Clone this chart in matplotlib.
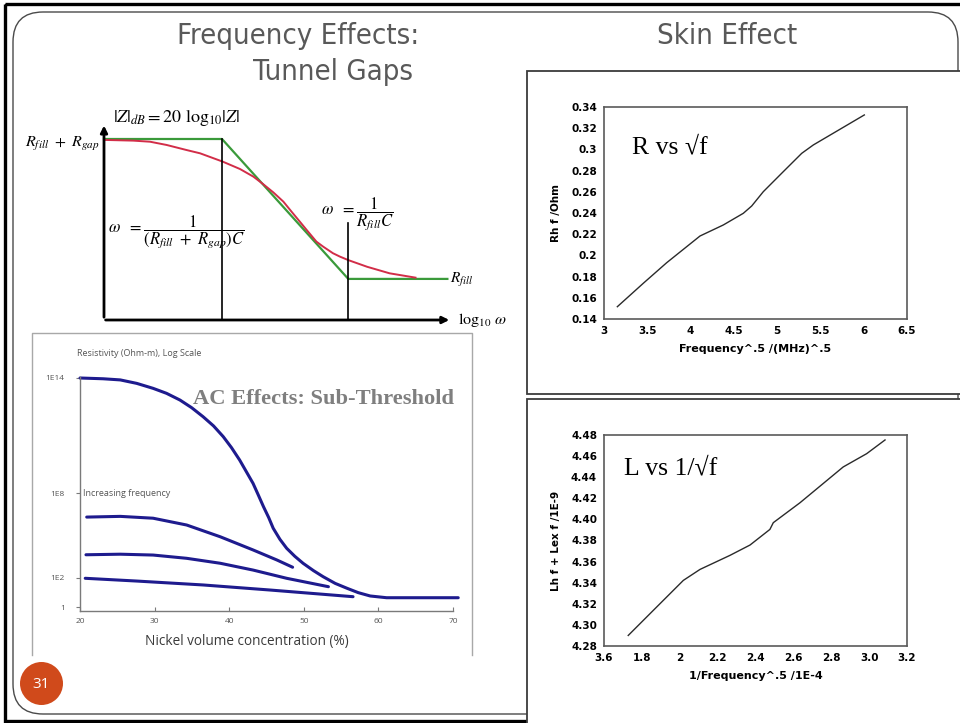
import numpy as np
import matplotlib.pyplot as plt
from matplotlib import font_manager
from matplotlib.patches import FancyBboxPatch, Rectangle, Circle

plt.rcParams['mathtext.fontset'] = 'stix'

W, H = 960, 723

# --- Bode sketch: log10(w) in arbitrary units, |Z|_dB normalised to the top level
bode_w_asym = [0.0, 1.0, 2.07, 2.91]
bode_z_asym = [1.0, 1.0, 0.227, 0.227]
bode_w_exact = [0.0, 0.248, 0.39, 0.531, 0.70, 0.814, 1.006, 1.153, 1.266, 1.35, 1.435, 1.52,
                1.59, 1.66, 1.718, 1.80, 1.858, 1.94, 2.0, 2.07, 2.23, 2.42, 2.64]
bode_z_exact = [0.995, 0.991, 0.985, 0.967, 0.939, 0.921, 0.875, 0.834, 0.792, 0.750, 0.705, 0.654,
                0.598, 0.543, 0.497, 0.433, 0.405, 0.369, 0.350, 0.331, 0.294, 0.258, 0.234]
break_w = [1.0, 2.07]
break_top = [1.0, 0.536]

# --- resistivity vs nickel content, y = log10(Ohm-m)
ni_x_dc = [20.0, 23.1, 25.4, 27.6, 29.8, 31.6, 33.4, 34.97, 36.5, 37.9, 39.2, 40.3, 41.4, 42.3,
           43.2, 43.9, 44.6, 45.3, 45.9, 46.8, 47.7, 48.8, 49.9, 51.3, 52.6, 54.2, 55.8, 57.3,
           58.9, 61.1, 70.7]
ni_y_dc = [14.0, 13.96, 13.9, 13.72, 13.46, 13.2, 12.85, 12.45, 11.98, 11.5, 10.94, 10.37, 9.72, 9.11,
           8.50, 7.86, 7.03, 6.26, 5.51, 4.73, 4.10, 3.53, 3.04, 2.52, 2.09, 1.63, 1.29, 0.99,
           0.76, 0.64, 0.64]
ni_x_f1 = [20.9, 25.4, 29.8, 34.3, 38.8, 43.2, 46.4, 48.5]
ni_y_f1 = [6.30, 6.35, 6.22, 5.74, 4.91, 3.98, 3.27, 2.76]
ni_x_f2 = [20.8, 25.4, 29.8, 34.3, 38.8, 43.2, 47.7, 53.3]
ni_y_f2 = [3.64, 3.68, 3.62, 3.39, 3.04, 2.56, 1.98, 1.40]
ni_x_f3 = [20.7, 27.6, 36.5, 45.5, 56.6]
ni_y_f3 = [1.98, 1.79, 1.52, 1.17, 0.71]
ni_xticks = [20, 30, 40, 50, 60, 70]
ni_yticks = [0, 2, 8, 14]
ni_yticklabels = ['1', '1E2', '1E8', '1E14']

# --- skin effect: R vs sqrt(f)
r_x = [3.154, 3.454, 3.724, 4.109, 4.378, 4.609, 4.706, 4.840, 5.071, 5.284, 5.418, 5.726, 6.007]
r_y = [0.1516, 0.1737, 0.1931, 0.2183, 0.2287, 0.2397, 0.2466, 0.2601, 0.2790, 0.2963, 0.3042, 0.3190, 0.3325]
r_xticks = [3, 3.5, 4, 4.5, 5, 5.5, 6, 6.5]
r_xticklabels = ['3', '3.5', '4', '4.5', '5', '5.5', '6', '6.5']
r_yticks = [0.14, 0.16, 0.18, 0.20, 0.22, 0.24, 0.26, 0.28, 0.30, 0.32, 0.34]
r_yticklabels = ['0.14', '0.16', '0.18', '0.2', '0.22', '0.24', '0.26', '0.28', '0.3', '0.32', '0.34']

# --- skin effect: L vs 1/sqrt(f)
l_x = [1.728, 1.860, 2.019, 2.107, 2.265, 2.371, 2.476, 2.494, 2.635, 2.863, 2.987, 3.084]
l_y = [4.290, 4.3137, 4.3422, 4.3526, 4.3659, 4.3757, 4.3905, 4.3969, 4.4158, 4.4497, 4.4623, 4.4753]
l_xticks = [1.6, 1.8, 2.0, 2.2, 2.4, 2.6, 2.8, 3.0, 3.2]
l_xticklabels = ['3.6', '1.8', '2', '2.2', '2.4', '2.6', '2.8', '3.0', '3.2']
l_yticks = [4.28, 4.30, 4.32, 4.34, 4.36, 4.38, 4.40, 4.42, 4.44, 4.46, 4.48]
l_yticklabels = ['4.28', '4.30', '4.32', '4.34', '4.36', '4.38', '4.40', '4.42', '4.44', '4.46', '4.48']


def px_box(x0, y0, x1, y1):
    # pixel rectangle (top-left origin) -> figure fraction rect
    return [x0 / W, 1 - y1 / H, (x1 - x0) / W, (y1 - y0) / H]


fonts = font_manager.fontManager.ttflist
names = {f.name for f in fonts}
serif = 'Liberation Serif' if 'Liberation Serif' in names else 'DejaVu Serif'
plain = 'Open Sans' if 'Open Sans' in names else 'DejaVu Sans'
# narrow face for the slide headings
if 'Liberation Sans Narrow' in names:
    head = dict(family='Liberation Sans Narrow', fontsize=22)
elif any(f.name == 'DejaVu Sans' and f.stretch == 'condensed' for f in fonts):
    head = dict(family='DejaVu Sans', stretch='condensed', fontsize=21)
elif 'Roboto' in names:
    head = dict(family='Roboto', fontsize=20)
else:
    head = dict(family='Liberation Sans', fontsize=19)

fig = plt.figure(figsize=(W / 100, H / 100), dpi=100)
fig.patch.set_facecolor('white')

# slide furniture
bg = fig.add_axes([0, 0, 1, 1])
bg.set_xlim(0, W)
bg.set_ylim(H, 0)
bg.axis('off')
bg.add_patch(Rectangle((5, 3.5), 970, 717.5, fill=False, ec='black', lw=2.4))
bg.add_patch(FancyBboxPatch((13, 12), 945, 702, boxstyle='round,pad=0,rounding_size=30',
                            fill=False, ec='#4a4a4a', lw=1.0))
bg.add_patch(Rectangle((527, 71), 440, 323, fc='white', ec='#3c3c3c', lw=1.3, zorder=3))
bg.add_patch(Rectangle((527, 399), 440, 330, fc='white', ec='#3c3c3c', lw=1.3, zorder=3))
bg.plot([32, 32, 472, 472], [655, 333, 333, 655], color='#a8a8a8', lw=1.0)
bg.add_patch(Circle((41.5, 683.5), 21.5, fc='#d04a1b', ec='none'))
bg.text(41.5, 684, '31', ha='center', va='center', color='white', fontsize=11, family=plain)

bg.text(298, 36, 'Frequency Effects:', ha='center', va='center', color='#595959', **head)
bg.text(413, 72, 'Tunnel Gaps', ha='right', va='center', color='#595959', **head)
bg.text(727, 36, 'Skin Effect', ha='center', va='center', color='#595959', **head)

# ---------------- Bode sketch
ax_b = fig.add_axes(px_box(14, 98, 512, 332))
ax_b.set_xlim((14 - 104) / 118, (512 - 104) / 118)
ax_b.set_ylim((320 - 332) / 181, (320 - 98) / 181)
ax_b.axis('off')
ax_b.patch.set_alpha(0)
ax_b.plot(bode_w_asym, bode_z_asym, color='#3a9a3a', lw=1.6)
ax_b.plot(bode_w_exact, bode_z_exact, color='#d22d48', lw=1.4)
for w, top in zip(break_w, break_top):
    ax_b.plot([w, w], [0, top], color='black', lw=1.2)
ax_b.annotate('', xy=(0, 1.09), xytext=(0, 0),
              arrowprops=dict(arrowstyle='-|>', color='black', lw=2.0, mutation_scale=10))
ax_b.annotate('', xy=(2.95, 0), xytext=(-0.01, 0),
              arrowprops=dict(arrowstyle='-|>', color='black', lw=2.0, mutation_scale=10))
ax_b.text(-0.034, 0.975, r'$R_{fill}\ +\ R_{gap}$', ha='right', va='center', fontsize=11.5)
ax_b.text(0.076, 1.116, r'$|Z|_{dB} = 20\ \mathrm{log}_{10}|Z|$', ha='left', va='center', fontsize=13)
ax_b.text(0.034, 0.486, r'$\omega\ \ =\dfrac{1}{(R_{fill}\ +\ R_{gap})C}$', ha='left', va='center',
          fontsize=12)
ax_b.text(1.84, 0.586, r'$\omega\ \ =\dfrac{1}{R_{fill}C}$', ha='left', va='center', fontsize=12)
ax_b.text(2.93, 0.221, r'$R_{fill}$', ha='left', va='center', fontsize=11)
ax_b.text(3.0, 0.0, r'$\mathrm{log}_{10}\ \omega$', ha='left', va='center', fontsize=11.5)

# ---------------- resistivity chart (schematic log axis, uneven decades)
warp_v = [-2, 0, 2, 8, 14, 16]
warp_p = [-29, 0, 29, 114, 229, 267.3]


def warp(v):
    return np.interp(v, warp_v, warp_p)


def unwarp(p):
    return np.interp(p, warp_p, warp_v)


ax_n = fig.add_axes(px_box(80, 377, 453, 611))
ax_n.set_yscale('function', functions=(warp, unwarp))
ax_n.set_xlim(20, 70)
ax_n.set_ylim(unwarp(-4), unwarp(230))
ax_n.patch.set_alpha(0)
for s in ('top', 'right'):
    ax_n.spines[s].set_visible(False)
for s in ('left', 'bottom'):
    ax_n.spines[s].set_color('#7a7a7a')
    ax_n.spines[s].set_linewidth(1.0)
navy = '#1e1b8e'
for xs, ys in [(ni_x_dc, ni_y_dc), (ni_x_f1, ni_y_f1), (ni_x_f2, ni_y_f2), (ni_x_f3, ni_y_f3)]:
    ax_n.plot(xs, ys, color=navy, lw=2.2, clip_on=False, solid_capstyle='round',
              solid_joinstyle='round')
ax_n.set_xticks(ni_xticks)
ax_n.set_xticklabels([str(t) for t in ni_xticks])
ax_n.set_yticks(ni_yticks)
ax_n.set_yticklabels(ni_yticklabels)
ax_n.yaxis.set_minor_locator(plt.NullLocator())
ax_n.tick_params(axis='x', direction='in', length=3, color='#7a7a7a', labelsize=6,
                 labelcolor='#555555', pad=5)
ax_n.tick_params(axis='y', direction='out', length=3, color='#7a7a7a', labelsize=6,
                 labelcolor='#555555', pad=8)
for lab in ax_n.get_xticklabels() + ax_n.get_yticklabels():
    lab.set_family(plain)
ax_n.text(20.4, 8, 'Increasing frequency', ha='left', va='center', fontsize=6.5,
          color='#555555', family=plain)
bg.text(77, 354, 'Resistivity (Ohm-m), Log Scale', ha='left', va='center', fontsize=6.5,
        color='#555555', family=plain)
bg.text(247, 642, 'Nickel volume concentration (%)', ha='center', va='center', fontsize=9.8,
        color='#3a3a3a', family=plain)
bg.text(193, 399, 'AC Effects: Sub-Threshold', ha='left', va='center', fontsize=16.2,
        fontweight='bold', color='#7f7f7f', family=serif, zorder=5)


# ---------------- skin effect panels
def skin_panel(box, xs, ys, xlim, ylim, xticks, xlabels, yticks, ylabels, xlabel, ylabel, note, note_xy):
    ax = fig.add_axes(px_box(*box))
    ax.set_zorder(4)
    ax.plot(xs, ys, color='#2a2a2a', lw=1.0)
    ax.set_xlim(*xlim)
    ax.set_ylim(*ylim)
    ax.set_xticks(xticks)
    ax.set_xticklabels(xlabels)
    ax.set_yticks(yticks)
    ax.set_yticklabels(ylabels)
    ax.tick_params(length=0, labelsize=7.5, pad=5)
    for lab in ax.get_xticklabels() + ax.get_yticklabels():
        lab.set_fontweight('bold')
    for s in ax.spines.values():
        s.set_color('#5a5a5a')
        s.set_linewidth(1.2)
    ax.set_xlabel(xlabel, fontsize=8, fontweight='bold', labelpad=6)
    ax.set_ylabel(ylabel, fontsize=7.5, fontweight='bold', labelpad=7)
    ax.text(note_xy[0], note_xy[1], note, transform=ax.transAxes, ha='left', va='center',
            fontsize=18.5, family=serif)
    return ax


skin_panel((604, 107, 907, 319), r_x, r_y, (3, 6.5), (0.14, 0.34), r_xticks, r_xticklabels,
           r_yticks, r_yticklabels, 'Frequency^.5 /(MHz)^.5', 'Rh f /Ohm',
           'R vs \u221af', (0.092, 0.807))
skin_panel((604, 435, 907, 646), l_x, l_y, (1.6, 3.2), (4.28, 4.48), l_xticks, l_xticklabels,
           l_yticks, l_yticklabels, '1/Frequency^.5 /1E-4', 'Lh f + Lex f /1E-9',
           'L vs 1/\u221af', (0.066, 0.843))

fig.savefig('out.png', dpi=100)
